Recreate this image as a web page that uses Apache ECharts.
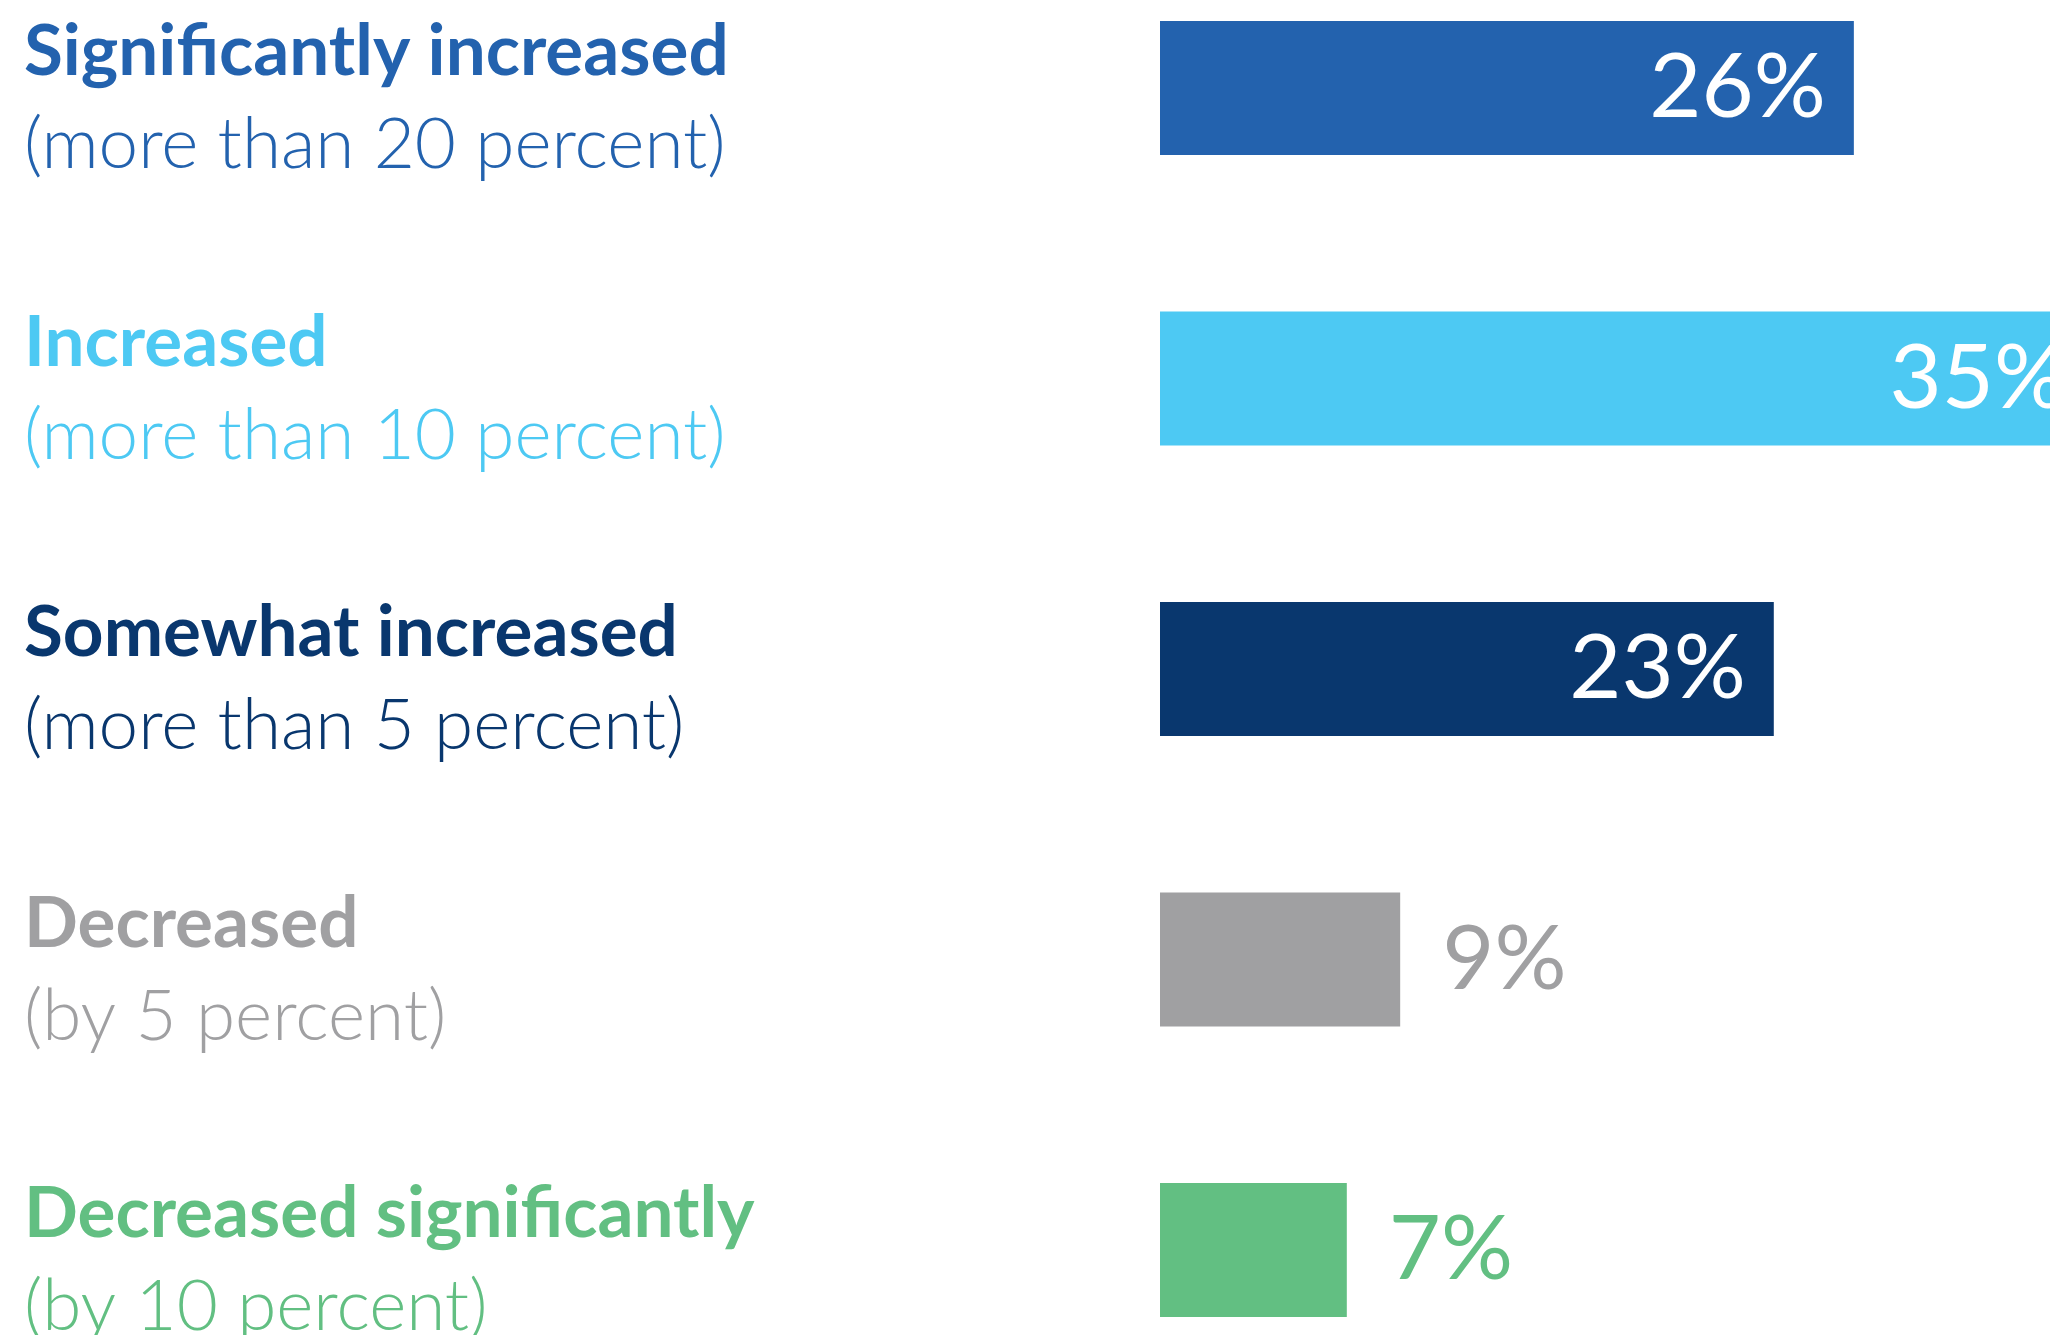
<!DOCTYPE html>
<html>
<head>
<meta charset="utf-8">
<title>Change in spending</title>
<script src="https://cdn.jsdelivr.net/npm/echarts@6/dist/echarts.min.js"></script>
<style>
  html, body { margin: 0; padding: 0; background: #ffffff; }
  #chart { width: 2050px; height: 1335px; }
</style>
</head>
<body>
<div id="chart"></div>
<script>
// Response categories (headline + qualifier), top to bottom
const titles = [
  'Significantly increased',
  'Increased',
  'Somewhat increased',
  'Decreased',
  'Decreased significantly'
];
const notes = [
  '(more than 20 percent)',
  '(more than 10 percent)',
  '(more than 5 percent)',
  '(by 5 percent)',
  '(by 10 percent)'
];
// Share of respondents, percent
const shares = [26, 35, 23, 9, 7];
const colors = ['#2362ae', '#4dc9f3', '#09376e', '#a0a0a2', '#62bf82'];
// Bars too short to hold their label get it outside, in the bar colour
const insideLabel = [true, true, true, false, false];

const chart = echarts.init(document.getElementById('chart'), null, { renderer: 'canvas' });

const rich = {};
titles.forEach((t, i) => {
  rich['t' + i] = {
    fontFamily: 'Lato', fontWeight: 700, fontSize: 71, lineHeight: 93, color: colors[i]
  };
  rich['n' + i] = {
    fontFamily: 'Lato', fontWeight: 300, fontSize: 71, lineHeight: 93, color: colors[i]
  };
});

const seriesData = shares.map((v, i) => ({
  value: v,
  itemStyle: { color: colors[i] },
  label: insideLabel[i]
    ? { position: 'insideRight', distance: 28, color: '#ffffff' }
    : { position: 'right', distance: 42, color: colors[i] }
}));

chart.setOption({
  animation: false,
  backgroundColor: '#ffffff',
  // categories sit on the tick positions, first at the top edge of the grid;
  // the grid keeps its size even though the last label runs to the page edge
  grid: { left: 1160, right: 0, top: 88, bottom: 85, outerBoundsMode: 'none', containLabel: false },
  xAxis: {
    type: 'value', min: 0, max: 33.35, show: false
  },
  yAxis: {
    type: 'category',
    inverse: true,
    boundaryGap: false,
    data: titles,
    axisLine: { show: false },
    axisTick: { show: false },
    splitLine: { show: false },
    axisLabel: {
      align: 'left',
      margin: 1136,
      padding: [22, 0, 0, 0],
      hideOverlap: false,
      rich: rich,
      formatter: (value, idx) => '{t' + idx + '|' + value + '}\n{n' + idx + '|' + notes[idx] + '}'
    }
  },
  series: [{
    type: 'bar',
    barWidth: 134,
    clip: false,
    data: seriesData,
    label: {
      show: true,
      fontFamily: 'Lato',
      fontWeight: 400,
      fontSize: 90,
      formatter: p => p.value + '%'
    }
  }]
});
</script>
</body>
</html>
